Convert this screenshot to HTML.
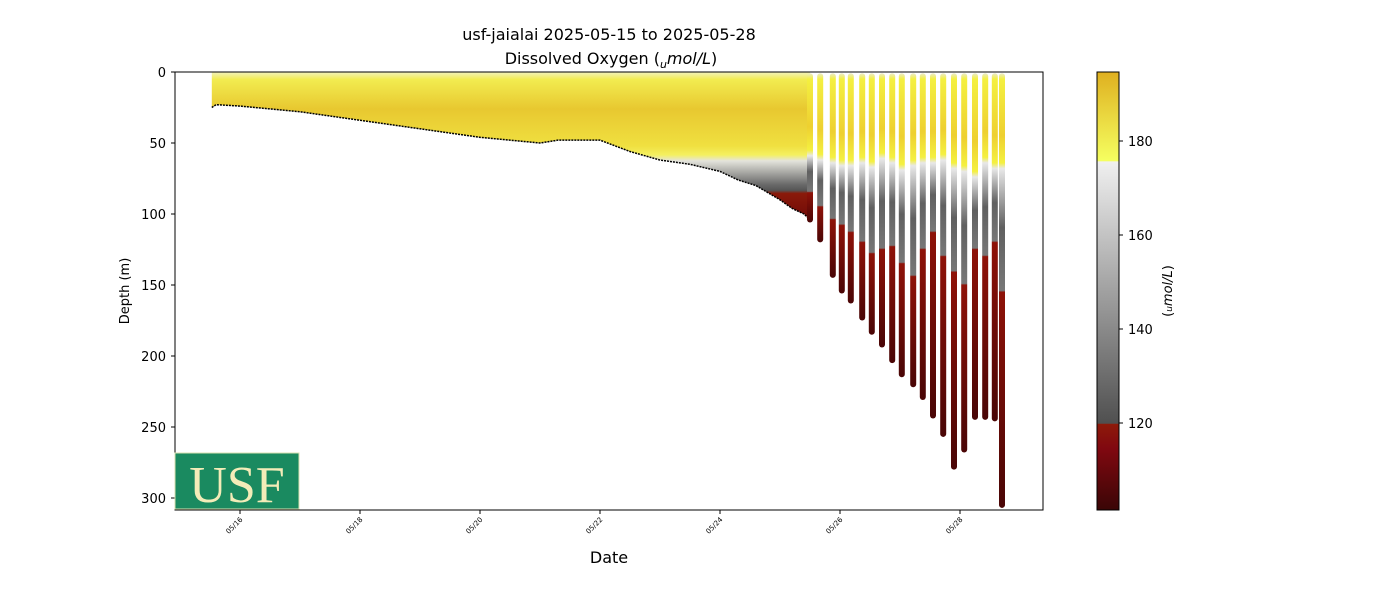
<!DOCTYPE html>
<html><head><meta charset="utf-8"><style>
body{margin:0;background:#fff;}
svg text{font-family:"DejaVu Sans","Liberation Sans",sans-serif;fill:#000;}
</style></head><body>
<svg id="chart" width="1400" height="600" xmlns="http://www.w3.org/2000/svg">
<defs>
<linearGradient id="cbar" x1="0" y1="0" x2="0" y2="1">
<stop offset="0" stop-color="#dfb020"/><stop offset="0.203" stop-color="#f5ff60"/>
<stop offset="0.205" stop-color="#f0f0f0"/><stop offset="0.802" stop-color="#505050"/>
<stop offset="0.804" stop-color="#8e1a0a"/><stop offset="0.86" stop-color="#800810"/><stop offset="1" stop-color="#3a0606"/>
</linearGradient>
<linearGradient id="env" gradientUnits="userSpaceOnUse" x1="0" y1="72" x2="0" y2="220">
<stop offset="0" stop-color="#f2f2c0"/><stop offset="0.05" stop-color="#f2ec50"/>
<stop offset="0.25" stop-color="#e8c830"/><stop offset="0.5" stop-color="#f0e040"/>
<stop offset="0.56" stop-color="#f4f060"/><stop offset="0.6" stop-color="#e4e4dc"/>
<stop offset="0.76" stop-color="#6a6a6a"/><stop offset="0.8" stop-color="#555"/>
<stop offset="0.82" stop-color="#8a1a0a"/><stop offset="1" stop-color="#700a08"/>
</linearGradient>
</defs>
<text x="609" y="40" font-size="16" text-anchor="middle">usf-jaialai 2025-05-15 to 2025-05-28</text>
<text x="611" y="64" font-size="16" text-anchor="middle">Dissolved Oxygen (<tspan font-style="italic" font-size="11" dy="4">u</tspan><tspan font-style="italic" dy="-4">mol/L</tspan>)</text>
<g id="plot"></g>
<rect x="175" y="72" width="868" height="438" fill="none" stroke="#000"/>
<g id="axes"></g>
<g>
<rect x="175" y="453" width="124" height="56" fill="#1a8a60" stroke="#d8e0b0"/>
<text x="237" y="502" font-size="52" text-anchor="middle" style="font-family:'Liberation Serif',serif;fill:#f3ecb8">USF</text>
</g>
<text x="609" y="563" font-size="16" text-anchor="middle">Date</text>
<text transform="translate(129,291) rotate(-90)" font-size="13" text-anchor="middle">Depth (m)</text>
<rect x="1097" y="72" width="22" height="438" fill="url(#cbar)" stroke="#000"/>
<g id="cbaxis"></g>
<text transform="translate(1172,291) rotate(-90)" font-size="13" text-anchor="middle">(<tspan font-style="italic" font-size="9">u</tspan><tspan font-style="italic">mol/L</tspan>)</text>
</svg>
<script>
const xTicks=[16,18,20,22,24,26,28];
const yTicks=[0,50,100,150,200,250,300];
const cTicks=[120,140,160,180];
const envTimes=[15.53,15.6,16,17,18,19,20,21,21.3,22,22.5,23,23.5,24,24.3,24.6,24.8,25.0,25.2,25.4,25.5];
const envDepths=[25,23,24,28,34,40,46,50,48,48,56,62,65,70,76,80,85,90,96,100,104];
const profTimes=[25.5,25.67,25.88,26.03,26.18,26.37,26.53,26.7,26.87,27.03,27.22,27.38,27.55,27.72,27.9,28.07,28.25,28.42,28.58,28.7];
const profDepths=[106,120,145,156,163,175,185,194,205,215,222,231,244,257,280,268,245,245,246,307];
const profRedStart=[85,95,104,108,113,120,128,125,123,135,144,125,113,130,141,150,125,130,120,155];
const profYellowEnd=[55,58,60,62,62,60,63,57,60,65,62,60,60,58,64,66,70,60,64,64];
const NS='http://www.w3.org/2000/svg';
const x=t=>180+(t-15)*60;
const y=d=>72+d*1.42;
const cy=v=>423-(v-120)*4.7;
function mk(tag,attrs,parent){const e=document.createElementNS(NS,tag);for(const k in attrs)e.setAttribute(k,attrs[k]);parent.appendChild(e);return e;}
const plot=document.getElementById('plot'),axes=document.getElementById('axes'),cb=document.getElementById('cbaxis'),defs=document.querySelector('defs');
let pts=envTimes.map((t,i)=>x(t)+','+y(envDepths[i]));
const poly=mk('polygon',{points:x(envTimes[0])+','+y(0)+' '+pts.join(' ')+' '+x(envTimes[envTimes.length-1])+','+y(0),fill:'url(#env)'},plot);


const edge=mk('polyline',{points:pts.join(' '),fill:'none',stroke:'#000','stroke-width':1.5,'stroke-dasharray':'2 1'},plot);


profTimes.forEach((t,i)=>{
 const id='pg'+i,bot=y(profDepths[i]);
 const g=mk('linearGradient',{id:id,gradientUnits:'userSpaceOnUse',x1:0,y1:y(0),x2:0,y2:bot},defs);
 const L=bot-y(0),f=d=>Math.min(1,Math.max(0,(y(d)-y(0))/L));
 [[0,'#e8e8e8'],[f(5),'#f4f040'],[f(profYellowEnd[i]*0.7),'#eed030'],[f(profYellowEnd[i]),'#f4f040'],[f(profYellowEnd[i]+4),'#e8e8e8'],[f((profYellowEnd[i]+profRedStart[i])/2),'#606060'],[f(profRedStart[i]-1),'#777'],[f(profRedStart[i]),'#8e1208'],[1,'#4a0606']].forEach(s=>mk('stop',{offset:s[0],'stop-color':s[1]},g));
 const ln=mk('line',{x1:x(t),x2:x(t),y1:y(3),y2:bot-3,stroke:'url(#'+id+')','stroke-width':6,'stroke-linecap':'round'},plot);
 
 
});
xTicks.forEach(d=>{const X=x(d);
 const tk=mk('line',{x1:X,x2:X,y1:510,y2:514,stroke:'#000'},axes);
 
 
 const tx=mk('text',{transform:`translate(${X+3},${520}) rotate(-45)`,'font-size':7,'text-anchor':'end'},axes);tx.textContent='05/'+d;
 
 
});
yTicks.forEach(d=>{const Y=y(d);
 const tk=mk('line',{x1:171,x2:175,y1:Y,y2:Y,stroke:'#000'},axes);
 
 
 const tx=mk('text',{x:166,y:Y+5,'font-size':13,'text-anchor':'end'},axes);tx.textContent=d;
 
 
});
cTicks.forEach(v=>{const Y=cy(v);
 const tk=mk('line',{x1:1119,x2:1123,y1:Y,y2:Y,stroke:'#000'},cb);
 
 
 const tx=mk('text',{x:1128,y:Y+5,'font-size':13},cb);tx.textContent=v;
 
 
});
</script>
</body></html>
